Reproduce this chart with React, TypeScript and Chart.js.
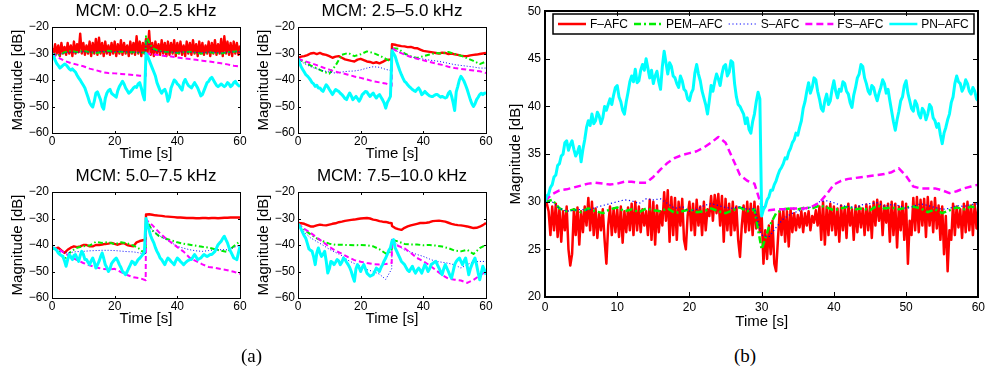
import React, { useEffect, useRef } from 'react';
import { Chart, registerables } from 'chart.js';
Chart.register(...registerables);

const FONT = "'Liberation Sans', Arial, Helvetica, sans-serif";

// ---------- time grids (s) ----------
const T_HALF = Array.from({ length: 121 }, (_, i) => i / 2);
const T_QUARTER = Array.from({ length: 241 }, (_, i) => i / 4);
const T_ONE = Array.from({ length: 61 }, (_, i) => i);
const T_COARSE = [0, 2, 4, 6, 8, 10, 12, 14, 16, 18, 20, 22, 24, 26, 28, 29.9, 30, 32, 34, 36, 38, 40, 42, 44, 46, 48, 50, 52, 54, 56, 58, 60];
const T_SMALL = [...Array.from({ length: 30 }, (_, i) => i), 29.9, ...Array.from({ length: 31 }, (_, i) => 30 + i)];

// ---------- labels ----------
const SERIES_NAMES = ['F–AFC', 'PEM–AFC', 'S–AFC', 'FS–AFC', 'PN–AFC'];
const SERIES_COLORS = ['#ff0000', '#00ee00', '#0000ff', '#ff00ff', '#00ffff'];
const SMALL_TITLES = ['MCM: 0.0–2.5 kHz', 'MCM: 2.5–5.0 kHz', 'MCM: 5.0–7.5 kHz', 'MCM: 7.5–10.0 kHz'];
const SMALL_X_TICKS = [0, 20, 40, 60];
const SMALL_Y_TICKS = [-60, -50, -40, -30, -20];
const BIG_X_TICKS = [0, 10, 20, 30, 40, 50, 60];
const BIG_Y_TICKS = [20, 25, 30, 35, 40, 45, 50];
const X_LABEL = 'Time [s]';
const Y_LABEL = 'Magnitude [dB]';

// ---------- panel (a1) 0.0-2.5 kHz ----------
const A1_F = [
  -28, -30.5, -26.5, -30, -27, -31, -26, -30, -27.5, -30.5,
  -26, -30, -27, -31, -25.5, -30, -26.5, -29.5, -22.5, -30,
  -26, -30.5, -27, -30, -25.5, -31, -26, -30, -24.5, -30.5,
  -24, -30, -26, -31, -25.5, -30, -27, -30.5, -26, -30,
  -25.5, -31, -26.5, -30, -25, -30.5, -26, -30, -27, -31,
  -25.5, -30, -26, -30.5, -23.5, -30, -25.5, -31, -26, -30,
  -24.5, -30, -21.5, -30.5, -26, -31, -25.5, -30, -26.5, -30.5,
  -25, -30, -26, -31, -25.5, -30.5, -26, -30, -25, -31,
  -26, -30, -25.5, -30.5, -27, -31, -25.5, -30, -26, -30.5,
  -25, -30, -26.5, -31, -25.5, -30, -26, -30.5, -27, -30,
  -25.5, -31, -26, -30, -25, -30.5, -26.5, -30, -24.5, -31,
  -23.5, -30, -25.5, -30.5, -26, -31, -25.5, -30, -26, -30.5,
  -27,
];
const A1_PEM = [-30, -31, -29.5, -29, -29.5, -29, -29.5, -29.8, -29.5, -29, -29.5, -29.3, -29.6, -29.5, -29.8, -29.5, -23.5, -28, -29, -29.3, -29.5, -29.8, -29.5, -29.3, -29.8, -30, -29.5, -29.8, -30, -29.5, -29.3, -29];
const A1_S = [-30, -30.5, -29.8, -29.5, -29.6, -29.3, -29.5, -29.4, -29.2, -29.5, -29.3, -29.2, -29.4, -29.5, -29.6, -29.5, -25, -28.5, -29.2, -29.4, -29.5, -29.6, -29.4, -29.5, -29.6, -29.7, -29.5, -29.6, -29.8, -29.5, -29.4, -29.3];
const A1_FS = [-30, -31.5, -32.8, -33.6, -34.2, -34.8, -35.7, -36.3, -37, -37.4, -37.5, -37.7, -37.9, -38.1, -38.4, -38.5, -30, -30.3, -30.6, -30.9, -31.1, -31.5, -31.8, -32.1, -32.4, -32.7, -33, -33.3, -33.7, -34.1, -34.6, -34.9];
const A1_PN = [
  -30, -31, -32.5, -33.8, -34.5, -35.5, -35, -34.5, -34, -34.3,
  -35, -35.8, -36.3, -35.8, -36.5, -37, -38.2, -39.2, -40, -41,
  -42, -43, -44.8, -46.5, -48.5, -49.5, -50.2, -48, -45, -44.5,
  -46, -47.5, -50, -51, -47, -45, -44, -43.5, -45, -45.5,
  -46, -46.5, -44, -42.5, -41.5, -40.5, -41.5, -43, -44, -45,
  -44.5, -43.8, -43, -42.5, -42.8, -41.5, -41, -43, -45.5, -47.5,
  -30, -31, -32.5, -34, -35.5, -37, -38.5, -41, -42.5, -44,
  -45, -44, -43.5, -45, -48, -46.5, -43, -41.5, -40, -40.5,
  -41.5, -42, -43, -43.8, -41, -39.8, -41, -42, -42.5, -43,
  -42, -41, -42, -43, -44.5, -46, -45.5, -44, -42.5, -41,
  -40.5, -39.5, -39, -40, -41, -42, -42.5, -42, -41.5, -42,
  -42.5, -42, -41, -41.5, -42.5, -42, -41, -40.5, -41.5, -42,
  -42.5,
];

// ---------- panel (a2) 2.5-5.0 kHz ----------
const A2_F = [
  -31.7, -31.2, -31, -30.6, -30, -29.8, -30.2, -29.8, -30.3, -30.5,
  -31, -31.6, -31.2, -31, -31.6, -32.2, -32.5, -32.8, -33, -32.3,
  -32, -32.5, -33, -33.2, -33.6, -33.3, -33.7, -33.2, -32.5, -32.3,
  -32.2,
  -26.5, -26.7, -27, -27.2, -27.3, -27.6, -27.5, -27.9, -28, -28.5,
  -29, -29.2, -29.4, -29.6, -29.8, -30, -29.7, -29.8, -30.2, -30,
  -30.3, -30.5, -30.8, -31, -31, -30.7, -30.5, -30.4, -30.2, -30,
  -29.8,
];
const A2_PEM = [-32, -33.2, -34.5, -35.6, -36.8, -37.6, -34.5, -30.5, -29.8, -31, -30.3, -29.2, -29.8, -30.8, -32, -33.2, -28, -28.2, -30, -31, -31.7, -31, -30.4, -29.8, -30, -29.4, -30.2, -30.8, -31.8, -32.8, -34, -33];
const A2_S = [-32, -33.8, -35, -35.8, -36.5, -37, -37.4, -37, -36.7, -36.6, -36.2, -35.5, -35, -35.2, -36, -36.5, -28, -29.4, -30.3, -31.2, -31.8, -32.1, -32.5, -32.8, -33.2, -33.7, -34.2, -34.5, -34.8, -35.1, -35.5, -35.5];
const A2_FS = [-32, -32.8, -33.6, -34.4, -35.3, -36.1, -36.9, -37.4, -38, -38.7, -39.2, -39.8, -40.5, -40.9, -41.3, -42.2, -28, -29.4, -30.4, -31.3, -32, -32.6, -33.2, -33.8, -34.3, -35, -35.5, -35.8, -36.1, -36.4, -36.7, -37.4];
const A2_PN = [
  -32, -33.5, -35, -36, -37, -38, -38.5, -39.2, -40, -41,
  -41.5, -42.4, -42, -43, -43, -43.8, -44.3, -43, -41.8, -42.5,
  -43.6, -44.5, -45.5, -44.5, -43.6, -44, -44.3, -45, -45.5, -46.2,
  -47, -47.4, -46, -44.9, -46, -47.4, -46.8, -46.2, -47, -48,
  -47, -45.5, -45, -44.3, -44.5, -45.5, -46.2, -45.5, -44.9, -46,
  -46.8, -46, -45.5, -46.5, -47.5, -48.7, -50.6, -48.5, -47.4, -46.2,
  -29, -30, -31, -33, -34.8, -36.5, -38, -39.3, -40.5, -41,
  -41.8, -42.5, -43, -43.6, -44, -44.3, -43.5, -43, -44, -45.5,
  -45, -44.3, -45, -45.5, -46, -46.2, -46.2, -45.8, -45.5, -45.5,
  -46, -46.5, -46.2, -46.5, -46.8, -46.5, -45, -44.3, -46, -48.5,
  -51.5, -44.5, -42.4, -40, -38.6, -39.5, -40.5, -42, -43.6, -45.5,
  -47.4, -49, -50, -49, -47.4, -46.5, -45.5, -45, -45.5, -45,
  -44.9,
];

// ---------- panel (a3) 5.0-7.5 kHz ----------
const A3_F = [
  -41, -41.5, -41, -42, -43, -41.8, -41, -40.5, -40.8, -40.5,
  -40, -40, -40.5, -40.5, -40, -40, -39.8, -39.6, -39.5, -39.2,
  -39.6, -39.9, -39.5, -39.3, -40, -40.3, -40.5, -39, -38.5, -38.2,
  -38,
  -28.5, -28.4, -28.6, -28.8, -28.9, -29, -29.2, -29.3, -29.4, -29.5,
  -29.6, -29.6, -29.7, -29.8, -29.8, -29.8, -29.9, -29.9, -29.8, -29.8,
  -29.9, -29.8, -29.8, -29.9, -29.8, -29.7, -29.7, -29.6, -29.6, -29.6,
  -29.6,
];
const A3_PEM = [-41, -42.2, -45.5, -42.5, -41, -40.5, -40.2, -38.8, -39.2, -38.9, -39.7, -39, -39.4, -40.2, -41.5, -43.6, -30.4, -34.5, -36.5, -37.5, -38.2, -39, -39.5, -39.9, -40.3, -40.7, -41, -41.6, -42.2, -42.6, -40.5, -38.6];
const A3_S = [-41, -42.5, -43, -42.8, -42.5, -42.4, -42.2, -42.1, -42, -42, -42.1, -42.3, -42.5, -42.6, -43, -43.6, -31, -34.3, -36.3, -37.7, -39, -40.5, -41.2, -41.8, -42.2, -42.4, -42.1, -41.8, -41.8, -41.8, -41, -39.9];
const A3_FS = [-41, -41.5, -43, -44.5, -45.7, -46.8, -47.7, -48.4, -49, -49.2, -49, -50.2, -51.3, -52.2, -52.5, -53.3, -30.4, -32.5, -35, -37.2, -39, -40.8, -42.5, -44.9, -46.1, -47.3, -48.3, -48.6, -49.1, -49.5, -50.1, -50.9];
const A3_PN = [
  -41, -41.2, -41.5, -42, -43, -43.6, -44, -44.3, -46, -48,
  -45.5, -43.6, -44.5, -45.5, -44, -43.6, -45, -46.2, -44, -42.4,
  -43.5, -45.5, -45.5, -46.5, -47.4, -46, -44.9, -46.5, -48.7, -47.5,
  -46.2, -44.5, -43, -45, -47.4, -48.5, -50, -49, -47, -46.2,
  -45.5, -44.9, -46, -47.4, -48.5, -50, -50.5, -51.2, -50, -48.7,
  -47.5, -46.2, -46.5, -47.4, -46.5, -45.5, -45, -44.3, -43.5, -42.4,
  -30, -32.5, -34.5, -36.5, -38, -39.2, -41, -42.4, -43.5, -44.9,
  -45.5, -46.5, -47.4, -46, -44.9, -45.5, -46.2, -46.8, -47.4, -46,
  -44.9, -45.5, -46.2, -46.8, -47.4, -46.8, -46.2, -45.8, -45.5, -45.5,
  -44.5, -43.6, -44.5, -45.5, -45.2, -44.9, -44.2, -43.6, -44, -44.3,
  -44, -43.6, -43.6, -43, -42.4, -41.2, -39.9, -39.2, -38.6, -37.5,
  -36.7, -38, -39.2, -41, -42.4, -43.6, -44.9, -45.2, -45.5, -43,
  -40.5,
];

// ---------- panel (a4) 7.5-10.0 kHz ----------
const A4_F = [
  -31.7, -31.8, -32, -32.5, -33, -33, -32.6, -32.3, -32.5, -32.6,
  -32.3, -32, -31.8, -31.4, -31.2, -30.9, -30.7, -30.5, -30.4, -30.2,
  -30, -29.9, -29.8, -30, -30.4, -30.6, -31, -31.2, -31.3, -31.6,
  -31.8,
  -32.8, -33.6, -34, -34.3, -33.5, -33, -32.6, -32.3, -32, -31.7,
  -31.7, -31.6, -31.4, -31, -30.9, -30.8, -31, -31.2, -31.6, -32,
  -32.3, -32.5, -32.6, -32.8, -33, -33.3, -33.6, -33.5, -33.1, -32.5,
  -31.7,
];
const A4_PEM = [-32, -34.2, -36, -37.5, -38.6, -39.5, -39.9, -39.9, -40, -40.1, -40, -40.1, -40.5, -41.6, -43.2, -42.4, -38, -38.7, -39.6, -39.8, -39.8, -40.1, -40, -40.2, -40.6, -41.2, -42.1, -42.4, -41.8, -43.4, -41.2, -39.9];
const A4_S = [-32, -35.2, -37.3, -38.7, -40.1, -41.6, -42.8, -44, -45.8, -47, -48.1, -49.3, -50, -51, -53, -49, -38, -40.2, -41.9, -42.7, -43.6, -44.3, -45.3, -46.2, -46.5, -46.9, -47.5, -48.7, -47.4, -46.3, -46.2, -46.2];
const A4_FS = [-32, -33.9, -35.4, -37.2, -38.9, -40.7, -42.2, -43.3, -44.6, -45.7, -46.3, -46.8, -47.2, -47.4, -47.2, -46.8, -38, -40.4, -41.2, -43, -44.9, -46.1, -47.7, -49.5, -51.3, -52.7, -53.1, -53.4, -54.3, -53.2, -51.5, -50];
const A4_PN = [
  -32, -32.8, -34, -35.3, -36.5, -37.5, -39.5, -41.5, -42, -42.4,
  -44.5, -47.4, -43, -41.1, -43, -44.3, -43.5, -42.4, -46, -50.6,
  -49, -46.2, -46.5, -47.4, -46.5, -45.5, -46, -47.4, -46.5, -44.9,
  -45.5, -46.5, -47.4, -48.5, -50, -52, -53.7, -49, -47.4, -48.5,
  -50, -48.5, -47.4, -49, -50.6, -51.2, -51.8, -51.5, -51.2, -50,
  -48.7, -49.2, -50, -48.5, -47.4, -46, -44.9, -43.5, -42, -41.1,
  -38.5, -38, -41.1, -42.3, -43.6, -44.9, -46.2, -46.8, -47.4, -48.5,
  -49.5, -50, -49, -48, -49.5, -50.6, -49.5, -48.7, -49.5, -50.6,
  -49, -47.4, -48.5, -50, -49, -47.4, -47, -46.5, -46.2, -47.5,
  -48.7, -50, -51.2, -49, -47.4, -48.7, -50, -51.5, -52.5, -50,
  -47.4, -46.2, -45.5, -44.9, -46.2, -47.4, -46, -44.9, -48, -51.2,
  -49, -47.4, -46, -44.9, -47.5, -50.5, -53.1, -50.5, -48, -49.5,
  -51.2,
];

// ---------- panel (b) ----------
const B_F = [
  30, 29.8, 29, 26.5, 29.5, 27, 29.8, 26.3, 29.3, 25.8, 29, 27, 29.5, 25, 23.3, 24.5, 29.2, 26.5, 29.4, 25.5,
  29, 26.8, 29.5, 27.5, 30.4, 27, 30, 26.5, 29.3, 26.2, 28.8, 27, 29.2, 26, 23.5, 27.5, 29.5, 26.5, 29.3, 26.8,
  29.2, 26.3, 29.5, 25.7, 29, 26.8, 29.4, 27, 29.8, 26.5, 30, 27, 29.5, 26.8, 29.2, 27.5, 29, 26.5, 30.2, 26,
  30, 25.5, 29.6, 26.8, 29, 27.5, 31, 28, 31.2, 25.8, 30.5, 26.5, 30.4, 26, 30, 27.5, 30.3, 26, 25, 28.5,
  30, 27, 29.8, 26.5, 30.2, 27.5, 29.5, 26.5, 30, 27, 29.2, 28.5, 30.6, 28, 30.7, 28.8, 30.8, 27.5, 30.6, 25.8,
  30.3, 27, 29.8, 26.5, 30, 27, 29.5, 26, 24.2, 27.5, 29.6, 26.8, 30, 27, 29.8, 26.5, 30, 27.2, 29.5, 26.8,
  28.6, 23.5, 27, 24, 27.5, 24.5, 28, 23.5, 22.7, 26, 29, 26.5, 29.2, 25.8, 29, 25.3, 29.2, 26.8, 28.8, 27,
  28.6, 27.3, 29, 26.8, 28.8, 27.5, 29, 27, 28.5, 27.8, 29.1, 27.5, 29.5, 26, 30, 25.5, 29.5, 26.5, 29.8, 27,
  29.5, 26.5, 29.3, 25.8, 29.6, 27, 29.4, 26.2, 29.8, 27.5, 29.2, 26, 29.6, 26.8, 29.5, 27.3, 29.3, 26.5, 29.7, 27,
  29.5, 26.2, 30, 27.5, 30.2, 28, 30, 26.5, 29.6, 27.8, 29.8, 25.8, 30, 26.5, 29.8, 25.2, 29.5, 27, 30, 26,
  29.8, 23.5, 28, 26.5, 30.4, 27, 30.5, 26.8, 30.2, 27.5, 30.3, 26.3, 30.5, 27.5, 30, 26.8, 30.4, 27.2, 29.6, 26,
  29.5, 24.5, 28.5, 22.7, 27, 26, 29.8, 26.5, 29.5, 27.3, 29.2, 26.2, 29.8, 26.8, 30, 27, 29.6, 26.5, 29.8, 27.2,
  29.5,
];
const B_PEM = [
  30, 30.2, 29.3, 29, 29.2, 28.9, 29.3, 29, 28.8, 29.2,
  29.4, 29, 29.2, 28.9, 29.3, 29.1, 29, 29.3, 28.8, 29,
  29.2, 28.9, 29, 29.3, 29, 28.8, 29.1, 29.4, 29, 29.2,
  25, 27.3, 28.8, 29.2, 29.3, 29.2, 29.4, 29.3, 29.6, 29.4,
  29.1, 29.3, 29.5, 29.2, 29.3, 29.1, 29.6, 29.3, 29.4, 29.2,
  29.4, 29.5, 29.3, 28.9, 29.2, 28.8, 29.1, 29.4, 29.2, 29.5,
  29.3,
];
const B_S = [
  30, 30, 29.3, 29, 29.1, 29.2, 29.1, 29.4, 29.6, 29.8,
  30, 30.2, 30.1, 29.8, 30.3, 30.2, 30.3, 29.8, 29.3, 29.5,
  29, 29.2, 29.6, 29.8, 29.6, 29.4, 29.3, 29.5, 29.2, 29.3,
  26.5, 26.3, 27.3, 28.2, 28.7, 29, 29.2, 29.5, 30, 30.1,
  29.9, 29.6, 29.5, 29.4, 29.7, 29.8, 29.9, 29.5, 29.7, 29.6,
  29.3, 29.5, 29.8, 29.6, 29.4, 29.2, 29.3, 29.6, 29.5, 29.7,
  29.8,
];
const B_FS = [
  30.1, 30.8, 31.2, 31.3, 31.5, 31.7, 31.9, 32, 31.9, 31.8,
  31.9, 32.1, 32.1, 32, 32, 32.6, 33.4, 34.1, 34.6, 34.9,
  35.1, 35.3, 35.7, 36.2, 36.8, 36.2, 34.5, 32.8, 32.2, 31.9,
  29.5, 29.1, 29.2, 29.2, 29.3, 29.3, 29.3, 29.5, 29.9, 30.8,
  31.8, 32.2, 32.4, 32.5, 32.6, 32.7, 32.8, 32.9, 33.1, 33.5,
  32.7, 31.6, 31.4, 31.4, 31.4, 31.2, 30.9, 31.1, 31.4, 31.6,
  31.8,
];
const B_PN = [
  30, 30.6, 30.8, 31.5, 31.8, 32.6, 32.8, 33.8, 34, 34.8, 35, 36.2, 36.4, 35.4, 36, 36.4, 35.5, 34.8, 35.2, 35.8,
  34.2, 35.5, 36.5, 37.8, 38.5, 38, 39.2, 38.2, 38.5, 39.4, 39, 38.2, 38.8, 40, 39.6, 40.2, 40.8, 40.2, 41.2, 42,
  42.2, 41, 40.5, 39.6, 39.2, 40.5, 41.5, 42.6, 43.2, 42.6, 43.9, 42.5, 42.7, 43.8, 44.4, 43.8, 45, 44, 43, 43.8,
  42.4, 43.2, 43.7, 42.6, 41.8, 44.2, 45.8, 44.6, 43.4, 44.6, 44.2, 43.2, 43, 42.4, 42, 43.2, 42.7, 41.8, 41.6, 40.8,
  40.6, 41.4, 41.8, 43.5, 44.4, 43.4, 42.7, 41.6, 40.9, 40.2, 39.2, 40.6, 42.2, 41.6, 42.6, 43.4, 42.9, 42.2, 43.4, 44.2,
  44.4, 43.2, 43.6, 44.8, 44.6, 42.4, 41, 40.2, 40, 39.6, 39.2, 38.2, 38.8, 37.6, 37.2, 38.4, 39.2, 40.5, 41.5, 40.8,
  28.5, 29.2, 29.5, 30.2, 30.5, 31.2, 31.2, 31.8, 32.2, 32.8, 33.3, 33.6, 34, 34.6, 34.5, 35.2, 35.6, 36.2, 36.5, 37.2,
  37, 37.8, 38.5, 39.8, 40.5, 41.6, 42.5, 41.4, 42, 43, 42.8, 41.6, 40.8, 39.8, 39.5, 40.6, 41.3, 40.2, 40.6, 41.8,
  42.7, 41.6, 40.9, 41.8, 41.6, 42.6, 42.4, 41.6, 41.3, 40.4, 39.9, 41.2, 42, 43, 43.4, 44.4, 44.2, 43, 42.4, 41.6,
  41.3, 42.2, 42, 41.2, 40.6, 41.4, 42, 42.8, 42.4, 41.4, 41.8, 40.6, 39.5, 38.4, 37.5, 38.6, 39.5, 40.6, 41, 42.2,
  42.7, 41.4, 40.6, 39.8, 39.5, 40.6, 40.2, 39.2, 38.8, 39.8, 39.5, 38.6, 39.2, 40.2, 39.9, 38.8, 38.5, 37.8, 38.2, 37,
  36.1, 37.2, 37.8, 38.6, 39.2, 40.4, 41, 42.4, 43.2, 42.6, 42.4, 41.6, 42, 42.8, 42.4, 41.6, 41.3, 42, 41.6, 40.8,
  40.6,
];

// ---------- styles ----------
const SMALL_WIDTHS = [2.4, 2, 1, 2, 3];
const SMALL_DASHES: number[][] = [[], [5, 2.5, 1.5, 2.5], [1, 2], [5, 3], []];
const BIG_WIDTHS = [2.5, 2.5, 1.2, 2.5, 3];
const BIG_DASHES: number[][] = [[], [7, 3, 2, 3], [1.2, 2.5], [7, 4], []];

type Series = [number[], number[]];

const SMALL_SERIES: Series[][] = [
  [[T_HALF, A1_F], [T_COARSE, A1_PEM], [T_COARSE, A1_S], [T_COARSE, A1_FS], [T_HALF, A1_PN]],
  [[T_SMALL, A2_F], [T_COARSE, A2_PEM], [T_COARSE, A2_S], [T_COARSE, A2_FS], [T_HALF, A2_PN]],
  [[T_SMALL, A3_F], [T_COARSE, A3_PEM], [T_COARSE, A3_S], [T_COARSE, A3_FS], [T_HALF, A3_PN]],
  [[T_SMALL, A4_F], [T_COARSE, A4_PEM], [T_COARSE, A4_S], [T_COARSE, A4_FS], [T_HALF, A4_PN]],
];
const BIG_SERIES: Series[] = [[T_QUARTER, B_F], [T_ONE, B_PEM], [T_ONE, B_S], [T_ONE, B_FS], [T_QUARTER, B_PN]];

const fmtMinus = (v: number) => (v < 0 ? '\u2212' + Math.abs(v) : String(v));

const framePlugin = {
  id: 'frame',
  afterDraw(chart: any, _args: any, opts: any) {
    const { ctx, chartArea } = chart;
    const { left, right, top, bottom } = chartArea;
    const lw = opts.lw || 1;
    const off = lw % 2 === 1 ? 0.5 : 0;
    const L = Math.round(left) + off, R = Math.round(right) + off;
    const T = Math.round(top) + off, B = Math.round(bottom) + off;
    ctx.save();
    ctx.strokeStyle = '#000';
    ctx.lineWidth = lw;
    ctx.setLineDash([]);
    ctx.strokeRect(L, T, R - L, B - T);
    const len = opts.tick || 3;
    ctx.lineWidth = opts.tickLw || lw;
    ctx.beginPath();
    const xs = chart.scales.x, ys = chart.scales.y;
    xs.ticks.forEach((t: any) => {
      const p = Math.round(xs.getPixelForValue(t.value)) + 0.5;
      ctx.moveTo(p, B); ctx.lineTo(p, B - len);
      ctx.moveTo(p, T); ctx.lineTo(p, T + len);
    });
    ys.ticks.forEach((t: any) => {
      const p = Math.round(ys.getPixelForValue(t.value)) + 0.5;
      ctx.moveTo(L, p); ctx.lineTo(L + len, p);
      ctx.moveTo(R, p); ctx.lineTo(R - len, p);
    });
    ctx.stroke();
    ctx.restore();
  },
};

// legend drawn inside the plot area (top-right), from the chart's own datasets
const boxLegendPlugin = {
  id: 'boxLegend',
  afterDatasetsDraw(chart: any, _args: any, opts: any) {
    if (!opts || !opts.display) return;
    const { ctx, chartArea } = chart;
    const ds = chart.data.datasets;
    const sample = opts.sample, gapText = opts.gapText, gapItem = opts.gapItem, pad = opts.pad;
    ctx.save();
    ctx.font = `${opts.size}px ${FONT}`;
    const widths = ds.map((d: any) => ctx.measureText(d.label).width);
    let total = pad * 2 + gapItem * (ds.length - 1);
    widths.forEach((w: number) => { total += sample + gapText + w; });
    const right = Math.round(chartArea.right - opts.right);
    const left = Math.round(right - total);
    const top = Math.round(chartArea.top + opts.top);
    const h = opts.height;
    ctx.fillStyle = '#fff';
    ctx.fillRect(left, top, right - left, h);
    ctx.strokeStyle = '#000';
    ctx.lineWidth = 1.5;
    ctx.setLineDash([]);
    ctx.strokeRect(left, top, right - left, h);
    let x = left + pad;
    const cy = top + h / 2;
    ds.forEach((d: any, i: number) => {
      ctx.beginPath();
      ctx.setLineDash(d.borderDash || []);
      ctx.lineWidth = Math.min(d.borderWidth, 2.5);
      ctx.strokeStyle = d.borderColor;
      ctx.moveTo(x, cy);
      ctx.lineTo(x + sample, cy);
      ctx.stroke();
      x += sample + gapText;
      ctx.setLineDash([]);
      ctx.fillStyle = '#000';
      ctx.textBaseline = 'middle';
      ctx.textAlign = 'left';
      ctx.fillText(d.label, x, cy + 0.5);
      x += widths[i] + gapItem;
    });
    ctx.restore();
  },
};

function buildDatasets(series: Series[], widths: number[], dashes: number[][]) {
  return series.map(([ts, vs], k) => ({
    label: SERIES_NAMES[k],
    data: ts.map((x, j) => ({ x, y: vs[j] })),
    borderColor: SERIES_COLORS[k],
    backgroundColor: SERIES_COLORS[k],
    borderWidth: widths[k],
    borderDash: dashes[k],
    borderJoinStyle: 'round' as const,
    pointRadius: 0,
    fill: false,
    tension: 0,
    order: 5 - k,
  }));
}

const fixTicks = (vals: number[]) => (scale: any) => {
  scale.ticks = vals.map((v) => ({ value: v }));
};

function smallConfig(i: number): any {
  return {
    type: 'line',
    data: { datasets: buildDatasets(SMALL_SERIES[i], SMALL_WIDTHS, SMALL_DASHES) },
    options: {
      responsive: false,
      animation: false,
      events: [],
      layout: { padding: { left: 0, right: 12, top: 0, bottom: 0 } },
      plugins: {
        legend: { display: false },
        tooltip: { enabled: false },
        title: {
          display: true,
          text: SMALL_TITLES[i],
          fullSize: false,
          color: '#000',
          font: { family: FONT, size: 17, weight: 'normal' },
          padding: { top: 0.8, bottom: 5.8 },
        },
        frame: { lw: 1, tick: 2.5 },
      },
      scales: {
        x: {
          type: 'linear',
          min: 0,
          max: 60,
          afterBuildTicks: fixTicks(SMALL_X_TICKS),
          ticks: { padding: 1, color: '#000', font: { family: FONT, size: 12 }, maxRotation: 0, autoSkip: false },
          grid: { display: false, drawTicks: false },
          border: { display: false },
          title: { display: true, text: X_LABEL, color: '#000', font: { family: FONT, size: 15 }, padding: { top: 0, bottom: 7.5 } },
          afterFit: (s: any) => { s.height = 37; },
        },
        y: {
          type: 'linear',
          min: -60,
          max: -20,
          afterBuildTicks: fixTicks(SMALL_Y_TICKS),
          ticks: { padding: 3, color: '#000', font: { family: FONT, size: 12 }, callback: (v: any) => fmtMinus(Number(v)), autoSkip: false },
          grid: { display: false, drawTicks: false },
          border: { display: false },
          title: { display: true, text: Y_LABEL, color: '#000', font: { family: FONT, size: 15 }, padding: { top: 8.5, bottom: 0 } },
          afterFit: (s: any) => { s.width = 52; },
        },
      },
    },
    plugins: [framePlugin],
  };
}

function bigConfig(): any {
  return {
    type: 'line',
    data: { datasets: buildDatasets(BIG_SERIES, BIG_WIDTHS, BIG_DASHES) },
    options: {
      responsive: false,
      animation: false,
      events: [],
      layout: { padding: { left: 0, right: 6, top: 10, bottom: 0 } },
      plugins: {
        tooltip: { enabled: false },
        title: { display: false },
        legend: { display: false },
        boxLegend: { display: true, size: 12, sample: 28, gapText: 4, gapItem: 6, pad: 5, right: 4, top: 3, height: 20 },
        frame: { lw: 2, tick: 5, tickLw: 1 },
      },
      scales: {
        x: {
          type: 'linear',
          min: 0,
          max: 60,
          afterBuildTicks: fixTicks(BIG_X_TICKS),
          ticks: { padding: 3, color: '#000', font: { family: FONT, size: 12 }, maxRotation: 0, autoSkip: false },
          grid: { display: false, drawTicks: false },
          border: { display: false },
          title: { display: true, text: X_LABEL, color: '#000', font: { family: FONT, size: 15 }, padding: { top: 0, bottom: 9 } },
          afterFit: (s: any) => { s.height = 43; },
        },
        y: {
          type: 'linear',
          min: 20,
          max: 50,
          afterBuildTicks: fixTicks(BIG_Y_TICKS),
          ticks: { padding: 4, color: '#000', font: { family: FONT, size: 12 }, autoSkip: false },
          grid: { display: false, drawTicks: false },
          border: { display: false },
          title: { display: true, text: Y_LABEL, color: '#000', font: { family: FONT, size: 15 }, padding: { top: 11.5, bottom: 0 } },
          afterFit: (s: any) => { s.width = 50; },
        },
      },
    },
    plugins: [framePlugin, boxLegendPlugin],
  };
}

function ChartCanvas({ left, top, width, height, make }: { left: number; top: number; width: number; height: number; make: () => any }) {
  const ref = useRef<HTMLCanvasElement | null>(null);
  useEffect(() => {
    if (!ref.current) return;
    const chart = new Chart(ref.current, make());
    return () => chart.destroy();
  }, []);
  return <canvas ref={ref} width={width} height={height} style={{ position: 'absolute', left, top, width, height }} />;
}

const SMALL_POS = [
  { left: 0, top: 0 },
  { left: 246, top: 0 },
  { left: 0, top: 165 },
  { left: 246, top: 165 },
];

const CAPTION_STYLE: React.CSSProperties = {
  position: 'absolute',
  top: 345,
  fontFamily: "'Liberation Serif', 'DejaVu Serif', serif",
  fontSize: 19,
  lineHeight: '22px',
  color: '#000',
};

export default function App() {
  return (
    <div style={{ position: 'absolute', left: 0, top: 0, width: 988, height: 376, background: '#fff', overflow: 'hidden' }}>
      {SMALL_POS.map((p, i) => (
        <ChartCanvas key={i} left={p.left} top={p.top} width={252} height={170} make={() => smallConfig(i)} />
      ))}
      <ChartCanvas left={495} top={0} width={493} height={340} make={bigConfig} />
      <div style={{ ...CAPTION_STYLE, left: 241 }}>(a)</div>
      <div style={{ ...CAPTION_STYLE, left: 734 }}>(b)</div>
    </div>
  );
}
